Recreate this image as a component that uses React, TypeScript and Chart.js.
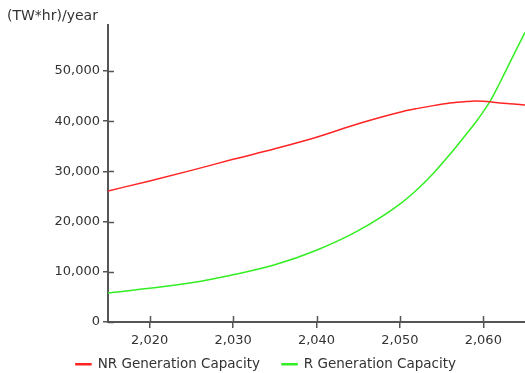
import React, { useEffect, useRef } from "react";
import { Chart, registerables } from "chart.js";

Chart.register(...registerables);

const years = [2015, 2020, 2025, 2030, 2035, 2040, 2045, 2050, 2052, 2054, 2056, 2058, 2059, 2060, 2061, 2062, 2064, 2065];
const nrCapacity = [26100, 28100, 30200, 32400, 34500, 36800, 39500, 41800, 42500, 43100, 43600, 43900, 44000, 43950, 43800, 43600, 43350, 43200];
const rCapacity = [5800, 6700, 7800, 9400, 11400, 14300, 18200, 23500, 26300, 29600, 33400, 37500, 39600, 41900, 44500, 47700, 54400, 57700];
const xTicks = [2020, 2030, 2040, 2050, 2060];
const yTicks = [0, 10000, 20000, 30000, 40000, 50000];
const seriesNames = ["NR Generation Capacity", "R Generation Capacity"];
const unitLabel = "(TW*hr)/year";

const FONT = "'DejaVu Sans', Verdana, sans-serif";
const TEXT = "#333333";
const AXIS = "#555555";

const crossTicks = {
  id: "crossTicks",
  afterDatasetsDraw(chart: any) {
    const ctx = chart.ctx;
    const xs = chart.scales.x;
    const ys = chart.scales.y;
    ctx.save();
    ctx.strokeStyle = AXIS;
    ctx.lineWidth = 1.5;
    ctx.beginPath();
    xs.ticks.forEach((t: any) => {
      const px = Math.round(xs.getPixelForValue(t.value)) + 0.5;
      ctx.moveTo(px, ys.bottom - 6);
      ctx.lineTo(px, ys.bottom);
    });
    ys.ticks.forEach((t: any) => {
      const py = Math.round(ys.getPixelForValue(t.value)) + 0.5;
      ctx.moveTo(xs.left, py);
      ctx.lineTo(xs.left + 6, py);
    });
    ctx.stroke();
    ctx.restore();
  },
};

// compact the legend box vertically while keeping wide horizontal spacing between items
const legendCompact = {
  id: "legendCompact",
  beforeUpdate(chart: any) {
    const lg = chart.legend;
    if (!lg || lg.__compact) return;
    lg.__compact = true;
    const origFit = lg.fit.bind(lg);
    lg.fit = function () {
      origFit();
      this.height = 24;
    };
    const origDraw = lg.draw.bind(lg);
    lg.draw = function () {
      const t = this.top;
      this.top = t - 13.5;
      origDraw();
      this.top = t;
    };
  },
};

export default function App() {
  const ref = useRef<HTMLCanvasElement | null>(null);
  useEffect(() => {
    if (!ref.current) return;
    const chart = new Chart(ref.current, {
      type: "line",
      data: {
        datasets: [
          {
            label: seriesNames[0],
            data: years.map((x, i) => ({ x, y: nrCapacity[i] })),
            borderColor: "#ff2424",
            backgroundColor: "#ff2424",
            borderWidth: 1.5,
            pointRadius: 0,
            cubicInterpolationMode: "monotone",
          },
          {
            label: seriesNames[1],
            data: years.map((x, i) => ({ x, y: rCapacity[i] })),
            borderColor: "#33ee22",
            backgroundColor: "#33ee22",
            borderWidth: 1.5,
            pointRadius: 0,
            cubicInterpolationMode: "monotone",
          },
        ],
      },
      options: {
        animation: false,
        responsive: false,
        maintainAspectRatio: false,
        layout: { padding: { left: 7, right: 0, top: 0, bottom: 0 } },
        plugins: {
          title: {
            display: true,
            text: unitLabel,
            align: "start",
            color: TEXT,
            font: { family: FONT, size: 14, weight: "normal" },
            padding: { top: 8, bottom: 0 },
          },
          legend: {
            position: "bottom",
            labels: {
              color: TEXT,
              font: { family: FONT, size: 13.5 },
              boxWidth: 15,
              boxHeight: 1,
              padding: 22,
            },
          },
          tooltip: { enabled: false },
        },
        scales: {
          x: {
            type: "linear",
            min: 2015,
            max: 2065,
            afterBuildTicks: (axis: any) => {
              axis.ticks = xTicks.map((v) => ({ value: v }));
            },
            afterFit: (axis: any) => {
              axis.height = 27;
            },
            ticks: {
              color: TEXT,
              font: { family: FONT, size: 13 },
              padding: 5,
              maxRotation: 0,
              callback: (v: any) => Number(v).toLocaleString("en-US"),
            },
            grid: { drawOnChartArea: false, drawTicks: true, tickLength: 6, color: AXIS, lineWidth: 1.5 },
            border: { color: AXIS, width: 2 },
          },
          y: {
            type: "linear",
            min: 0,
            max: 59200,
            afterBuildTicks: (axis: any) => {
              axis.ticks = yTicks.map((v) => ({ value: v }));
            },
            afterFit: (axis: any) => {
              axis.width = 101;
            },
            ticks: {
              color: TEXT,
              font: { family: FONT, size: 13 },
              padding: 3,
              callback: (v: any) => Number(v).toLocaleString("en-US"),
            },
            grid: { drawOnChartArea: false, drawTicks: true, tickLength: 5, color: AXIS, lineWidth: 1.5 },
            border: { color: AXIS, width: 2 },
          },
        },
      },
      plugins: [crossTicks, legendCompact],
    });
    return () => chart.destroy();
  }, []);
  return (
    <div style={{ position: "fixed", left: 0, top: 0, width: 525, height: 373, background: "#fff" }}>
      <canvas ref={ref} width={525} height={373} style={{ display: "block" }} />
    </div>
  );
}
